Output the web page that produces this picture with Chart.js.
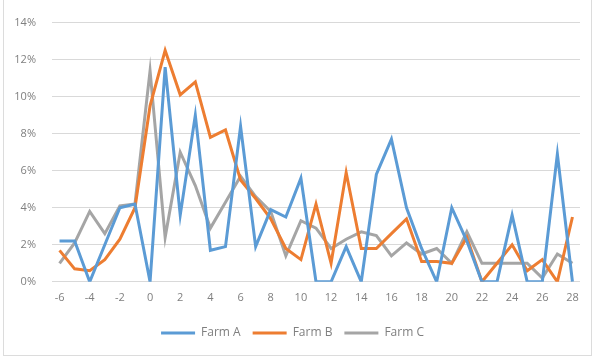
<!DOCTYPE html>
<html>
<head>
<meta charset="utf-8">
<script src="https://cdn.jsdelivr.net/npm/chart.js@4.4.1/dist/chart.umd.min.js"></script>
<style>
  html, body { margin: 0; padding: 0; background: #fff; }
  #wrap { position: relative; width: 600px; height: 361px; }
  #frame { position: absolute; left: 3px; top: -1px; width: 587px; height: 355px; border: 1px solid #dcdcdc; }
  canvas { position: absolute; left: 0; top: 0; }
</style>
</head>
<body>
<div id="wrap">
  <div id="frame"></div>
  <canvas id="chart" width="600" height="361"></canvas>
</div>
<script>
// x categories: one point per day, -6 .. 28
const days = [-6, -5, -4, -3, -2, -1, 0, 1, 2, 3, 4, 5, 6, 7, 8, 9, 10, 11,
  12, 13, 14, 15, 16, 17, 18, 19, 20, 21, 22, 23, 24, 25, 26, 27, 28];

// values in %
const farmA = [2.2, 2.2, 0, 2.0, 4.0, 4.2, 0, 11.6, 3.6, 9.0, 1.7, 1.9, 8.4, 1.9, 3.9, 3.5,
  5.6, 0, 0, 1.9, 0, 5.8, 7.7, 4.0, 1.8, 0, 4.0, 2.2, 0, 0, 3.6, 0, 0, 6.9, 0];
const farmB = [1.7, 0.7, 0.6, 1.2, 2.3, 4.0, 9.5, 12.5, 10.1, 10.8, 7.8, 8.2, 5.5, 4.5, 3.4, 1.8,
  1.2, 4.2, 1.0, 5.9, 1.8, 1.8, 2.6, 3.4, 1.1, 1.1, 1.0, 2.4, 0, 1.0, 2.0, 0.6, 1.2, 0, 3.5];
const farmC = [1.0, 2.1, 3.8, 2.6, 4.1, 4.2, 11.4, 2.4, 7.0, 5.2, 2.9, 4.3, 5.7, 4.6, 3.8, 1.4,
  3.3, 2.9, 1.8, 2.3, 2.7, 2.5, 1.4, 2.1, 1.5, 1.8, 1.0, 2.7, 1.0, 1.0, 1.0, 1.0, 0.2, 1.5, 1.0];

const seriesNames = ['Farm A', 'Farm B', 'Farm C'];
const seriesColors = ['#5b9bd5', '#ed7d31', '#a5a5a5'];

const yTicks = [0, 2, 4, 6, 8, 10, 12, 14];

const textColor = '#7f7f7f';
const gridColor = '#d9d9d9';
Chart.defaults.font.family = "'Open Sans', 'Liberation Sans', sans-serif";
Chart.defaults.font.size = 11;
Chart.defaults.color = textColor;

const datasets = [farmA, farmB, farmC].map((vals, i) => ({
  label: seriesNames[i],
  data: vals,
  borderColor: seriesColors[i],
  backgroundColor: seriesColors[i],
  borderWidth: 3,
  pointRadius: 0,
  tension: 0,
  fill: false
}));

new Chart(document.getElementById('chart'), {
  type: 'line',
  data: { labels: days, datasets },
  options: {
    responsive: false,
    animation: false,
    layout: { padding: { left: 5, right: 20, top: 8, bottom: 12 } },
    scales: {
      x: {
        offset: true,
        grid: { display: false },
        border: { display: false },
        ticks: {
          autoSkip: false,
          maxRotation: 0,
          padding: 1,
          callback: (v, i) => (days[i] % 2 === 0 ? String(days[i]) : '')
        },
        afterFit: scale => { scale.height += 10; }
      },
      y: {
        min: 0,
        max: 14,
        afterBuildTicks: scale => { scale.ticks = yTicks.map(v => ({ value: v })); },
        afterFit: scale => { scale.width = 47; },
        grid: { color: gridColor, lineWidth: 1, drawTicks: false },
        border: { display: false },
        ticks: { padding: 16, callback: v => v + '%' }
      }
    },
    plugins: {
      legend: {
        position: 'bottom',
        labels: {
          boxWidth: 34,
          boxHeight: 3,
          padding: 12,
          color: textColor,
          font: { size: 12 },
          generateLabels: chart => Chart.defaults.plugins.legend.labels.generateLabels(chart)
            .map(item => Object.assign(item, { lineWidth: 0, fillStyle: item.strokeStyle }))
        }
      },
      tooltip: { enabled: false }
    }
  }
});
</script>
</body>
</html>
